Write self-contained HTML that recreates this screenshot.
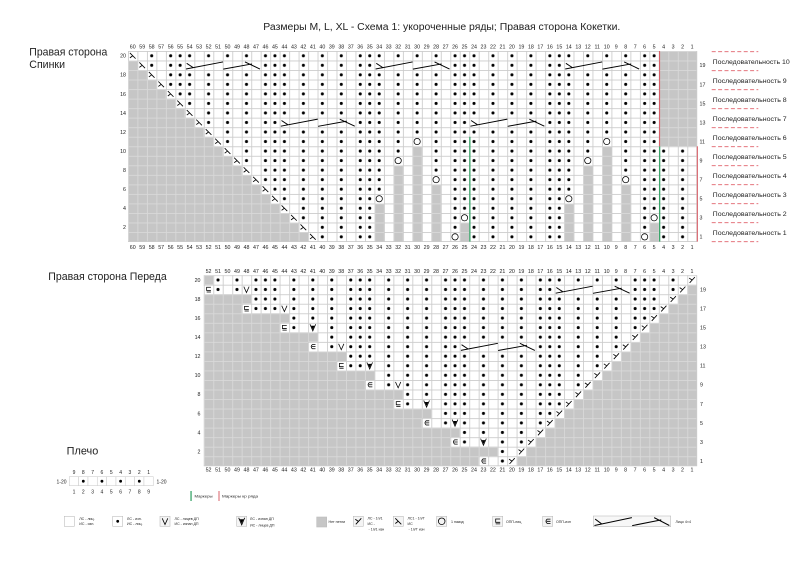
<!DOCTYPE html>
<html><head><meta charset="utf-8"><style>
html,body{margin:0;padding:0;background:#fff;}
svg{display:block;}
text{font-family:"Liberation Sans","DejaVu Sans",sans-serif;fill:#222;}
</style></head><body>
<svg xmlns="http://www.w3.org/2000/svg" xmlns:xlink="http://www.w3.org/1999/xlink" width="800" height="565" viewBox="0 0 800 565">
<defs>
<pattern id="gw" patternUnits="userSpaceOnUse" width="1" height="1"><rect width="1" height="1" fill="#fff"/><rect width="1" height=".09" fill="#cbcbcb"/><rect width=".09" height="1" fill="#cbcbcb"/></pattern>
<pattern id="gg" patternUnits="userSpaceOnUse" width="1" height="1"><rect width="1" height="1" fill="#c6c6c6"/><rect width="1" height=".09" fill="#d9d9d9"/><rect width=".09" height="1" fill="#d9d9d9"/></pattern>
<pattern id="dT" patternUnits="userSpaceOnUse" width="10" height="1"><circle cx=".5" cy=".5" r=".16" fill="#000"/><circle cx="2.5" cy=".5" r=".16" fill="#000"/><circle cx="4.5" cy=".5" r=".16" fill="#000"/><circle cx="5.5" cy=".5" r=".16" fill="#000"/><circle cx="6.5" cy=".5" r=".16" fill="#000"/><circle cx="8.5" cy=".5" r=".16" fill="#000"/></pattern>
<pattern id="dB" patternUnits="userSpaceOnUse" width="10" height="1"><circle cx="1.5" cy=".5" r=".16" fill="#000"/><circle cx="3.5" cy=".5" r=".16" fill="#000"/><circle cx="5.5" cy=".5" r=".16" fill="#000"/><circle cx="6.5" cy=".5" r=".16" fill="#000"/><circle cx="7.5" cy=".5" r=".16" fill="#000"/><circle cx="9.5" cy=".5" r=".16" fill="#000"/></pattern>
<g id="dec"><path d="M.2,.2L.8,.8M.2,.72L.5,.5" fill="none" stroke="#000" stroke-width=".09"/></g>
<g id="inc"><path d="M.8,.2L.25,.8M.2,.3L.52,.52" fill="none" stroke="#000" stroke-width=".09"/></g>
<g id="circ"><circle cx=".5" cy=".5" r=".33" fill="none" stroke="#000" stroke-width=".08"/></g>
<g id="vv"><path d="M.22,.2L.5,.82L.78,.2" fill="none" stroke="#000" stroke-width=".08"/></g>
<g id="vf"><path d="M.2,.15L.5,.85L.8,.15" fill="none" stroke="#000" stroke-width=".08"/><path d="M.3,.3L.7,.3L.5,.72Z" fill="#000"/></g>
<g id="cu"><path d="M.75,.27H.3V.6H.75M.3,.76H.75" fill="none" stroke="#000" stroke-width=".08"/></g>
<g id="ca"><path d="M.78,.28H.45Q.2,.5 .45,.72H.78M.4,.5H.78" fill="none" stroke="#000" stroke-width=".08"/></g>
<g id="cab"><path d="M.19,.29L.86,.73M.12,.89L4.02,.15M4.05,.9L7.08,.36M6.34,.15L7.92,.89" fill="none" stroke="#000" stroke-width=".1"/></g>
</defs>

<!-- Title -->
<text x="263.3" y="29.8" font-size="10" textLength="357" lengthAdjust="spacingAndGlyphs">Размеры M, L, XL - Схема 1: укороченные ряды; Правая сторона Кокетки.</text>
<text x="29.3" y="55.5" font-size="10.8" textLength="78" lengthAdjust="spacingAndGlyphs">Правая сторона</text>
<text x="29.3" y="67.8" font-size="10.8" textLength="35.7" lengthAdjust="spacingAndGlyphs">Спинки</text>
<text x="48.3" y="280" font-size="10.8" textLength="118.4" lengthAdjust="spacingAndGlyphs">Правая сторона Переда</text>
<text x="66.7" y="454.3" font-size="10.8" textLength="31.6" lengthAdjust="spacingAndGlyphs">Плечо</text>

<!-- TOP CHART -->
<g transform="translate(128,51) scale(9.48,9.53)">
<rect width="60" height="20" fill="url(#gw)"/>
<rect width="60" height="20" fill="url(#dT)"/>
<polygon fill="url(#gg)" points="0,1 1,1 1,2 2,2 2,3 3,3 3,4 4,4 4,5 5,5 5,6 6,6 6,7 7,7 7,8 8,8 8,9 9,9 9,10 10,10 10,11 11,11 11,12 12,12 12,13 13,13 13,14 14,14 14,15 15,15 15,16 16,16 16,17 17,17 17,18 18,18 18,19 19,19 19,20 0,20"/>
<path fill="url(#gg)" d="M56,0h4v10h-4zM26,16h1v4h-1zM28,12h1v8h-1zM30,10h1v10h-1zM32,14h1v6h-1zM35,18h1v2h-1zM46,16h1v4h-1zM48,12h1v8h-1zM50,10h1v10h-1zM52,14h1v6h-1zM55,18h1v2h-1z"/>
<path fill="url(#gw)" d="M0,0h1v1h-1zM1,1h1v1h-1zM2,2h1v1h-1zM3,3h1v1h-1zM4,4h1v1h-1zM5,5h1v1h-1zM6,6h1v1h-1zM7,7h1v1h-1zM8,8h1v1h-1zM9,9h1v1h-1zM10,10h1v1h-1zM11,11h1v1h-1zM12,12h1v1h-1zM13,13h1v1h-1zM14,14h1v1h-1zM15,15h1v1h-1zM16,16h1v1h-1zM17,17h1v1h-1zM18,18h1v1h-1zM19,19h1v1h-1z"/>
<path fill="url(#gw)" d="M26,15h1v1h-1zM28,11h1v1h-1zM30,9h1v1h-1zM32,13h1v1h-1zM34,19h1v1h-1zM35,17h1v1h-1zM46,15h1v1h-1zM48,11h1v1h-1zM50,9h1v1h-1zM52,13h1v1h-1zM54,19h1v1h-1zM55,17h1v1h-1zM6,1h8v1h-8zM26,1h8v1h-8zM46,1h8v1h-8zM16,7h8v1h-8zM36,7h8v1h-8z"/>
<path d="M60,0V20H0" fill="none" stroke="#cbcbcb" stroke-width=".09"/>
<use xlink:href="#dec" x="0" y="0"/><use xlink:href="#dec" x="1" y="1"/><use xlink:href="#dec" x="2" y="2"/><use xlink:href="#dec" x="3" y="3"/><use xlink:href="#dec" x="4" y="4"/><use xlink:href="#dec" x="5" y="5"/><use xlink:href="#dec" x="6" y="6"/><use xlink:href="#dec" x="7" y="7"/><use xlink:href="#dec" x="8" y="8"/><use xlink:href="#dec" x="9" y="9"/><use xlink:href="#dec" x="10" y="10"/><use xlink:href="#dec" x="11" y="11"/><use xlink:href="#dec" x="12" y="12"/><use xlink:href="#dec" x="13" y="13"/><use xlink:href="#dec" x="14" y="14"/><use xlink:href="#dec" x="15" y="15"/><use xlink:href="#dec" x="16" y="16"/><use xlink:href="#dec" x="17" y="17"/><use xlink:href="#dec" x="18" y="18"/><use xlink:href="#dec" x="19" y="19"/>
<use xlink:href="#circ" x="26" y="15"/><use xlink:href="#circ" x="28" y="11"/><use xlink:href="#circ" x="30" y="9"/><use xlink:href="#circ" x="32" y="13"/><use xlink:href="#circ" x="34" y="19"/><use xlink:href="#circ" x="35" y="17"/><use xlink:href="#circ" x="46" y="15"/><use xlink:href="#circ" x="48" y="11"/><use xlink:href="#circ" x="50" y="9"/><use xlink:href="#circ" x="52" y="13"/><use xlink:href="#circ" x="54" y="19"/><use xlink:href="#circ" x="55" y="17"/>
<use xlink:href="#cab" x="6" y="1"/><use xlink:href="#cab" x="26" y="1"/><use xlink:href="#cab" x="46" y="1"/><use xlink:href="#cab" x="16" y="7"/><use xlink:href="#cab" x="36" y="7"/>
</g>
<!-- markers on top chart -->
<rect x="469.2" y="136.8" width="1.3" height="104.8" fill="#3aa56a"/>
<rect x="659" y="146.3" width="1.3" height="95.3" fill="#3aa56a"/>
<rect x="659" y="51" width="1.1" height="95.3" fill="#d9606a"/>
<rect x="696.8" y="146.3" width="1.1" height="95.3" fill="#d9606a"/>

<!-- top chart column labels -->
<g transform="translate(128,0)" font-size="5.3" text-anchor="middle">
<text y="48.5"><tspan x="4.74">60</tspan><tspan x="14.22">59</tspan><tspan x="23.7">58</tspan><tspan x="33.18">57</tspan><tspan x="42.66">56</tspan><tspan x="52.14">55</tspan><tspan x="61.62">54</tspan><tspan x="71.1">53</tspan><tspan x="80.58">52</tspan><tspan x="90.06">51</tspan><tspan x="99.54">50</tspan><tspan x="109.02">49</tspan><tspan x="118.5">48</tspan><tspan x="127.98">47</tspan><tspan x="137.46">46</tspan><tspan x="146.94">45</tspan><tspan x="156.42">44</tspan><tspan x="165.9">43</tspan><tspan x="175.38">42</tspan><tspan x="184.86">41</tspan><tspan x="194.34">40</tspan><tspan x="203.82">39</tspan><tspan x="213.3">38</tspan><tspan x="222.78">37</tspan><tspan x="232.26">36</tspan><tspan x="241.74">35</tspan><tspan x="251.22">34</tspan><tspan x="260.7">33</tspan><tspan x="270.18">32</tspan><tspan x="279.66">31</tspan><tspan x="289.14">30</tspan><tspan x="298.62">29</tspan><tspan x="308.1">28</tspan><tspan x="317.58">27</tspan><tspan x="327.06">26</tspan><tspan x="336.54">25</tspan><tspan x="346.02">24</tspan><tspan x="355.5">23</tspan><tspan x="364.98">22</tspan><tspan x="374.46">21</tspan><tspan x="383.94">20</tspan><tspan x="393.42">19</tspan><tspan x="402.9">18</tspan><tspan x="412.38">17</tspan><tspan x="421.86">16</tspan><tspan x="431.34">15</tspan><tspan x="440.82">14</tspan><tspan x="450.3">13</tspan><tspan x="459.78">12</tspan><tspan x="469.26">11</tspan><tspan x="478.74">10</tspan><tspan x="488.22">9</tspan><tspan x="497.7">8</tspan><tspan x="507.18">7</tspan><tspan x="516.66">6</tspan><tspan x="526.14">5</tspan><tspan x="535.62">4</tspan><tspan x="545.1">3</tspan><tspan x="554.58">2</tspan><tspan x="564.06">1</tspan></text>
<text y="249.2"><tspan x="4.74">60</tspan><tspan x="14.22">59</tspan><tspan x="23.7">58</tspan><tspan x="33.18">57</tspan><tspan x="42.66">56</tspan><tspan x="52.14">55</tspan><tspan x="61.62">54</tspan><tspan x="71.1">53</tspan><tspan x="80.58">52</tspan><tspan x="90.06">51</tspan><tspan x="99.54">50</tspan><tspan x="109.02">49</tspan><tspan x="118.5">48</tspan><tspan x="127.98">47</tspan><tspan x="137.46">46</tspan><tspan x="146.94">45</tspan><tspan x="156.42">44</tspan><tspan x="165.9">43</tspan><tspan x="175.38">42</tspan><tspan x="184.86">41</tspan><tspan x="194.34">40</tspan><tspan x="203.82">39</tspan><tspan x="213.3">38</tspan><tspan x="222.78">37</tspan><tspan x="232.26">36</tspan><tspan x="241.74">35</tspan><tspan x="251.22">34</tspan><tspan x="260.7">33</tspan><tspan x="270.18">32</tspan><tspan x="279.66">31</tspan><tspan x="289.14">30</tspan><tspan x="298.62">29</tspan><tspan x="308.1">28</tspan><tspan x="317.58">27</tspan><tspan x="327.06">26</tspan><tspan x="336.54">25</tspan><tspan x="346.02">24</tspan><tspan x="355.5">23</tspan><tspan x="364.98">22</tspan><tspan x="374.46">21</tspan><tspan x="383.94">20</tspan><tspan x="393.42">19</tspan><tspan x="402.9">18</tspan><tspan x="412.38">17</tspan><tspan x="421.86">16</tspan><tspan x="431.34">15</tspan><tspan x="440.82">14</tspan><tspan x="450.3">13</tspan><tspan x="459.78">12</tspan><tspan x="469.26">11</tspan><tspan x="478.74">10</tspan><tspan x="488.22">9</tspan><tspan x="497.7">8</tspan><tspan x="507.18">7</tspan><tspan x="516.66">6</tspan><tspan x="526.14">5</tspan><tspan x="535.62">4</tspan><tspan x="545.1">3</tspan><tspan x="554.58">2</tspan><tspan x="564.06">1</tspan></text>
</g>
<text font-size="5.3" text-anchor="end"><tspan x="126" y="57.7">20</tspan><tspan x="126" y="76.7">18</tspan><tspan x="126" y="95.8">16</tspan><tspan x="126" y="114.9">14</tspan><tspan x="126" y="133.9">12</tspan><tspan x="126" y="153">10</tspan><tspan x="126" y="172">8</tspan><tspan x="126" y="191.1">6</tspan><tspan x="126" y="210.2">4</tspan><tspan x="126" y="229.2">2</tspan></text>
<text font-size="5.3"><tspan x="699.5" y="67.2">19</tspan><tspan x="699.5" y="86.3">17</tspan><tspan x="699.5" y="105.3">15</tspan><tspan x="699.5" y="124.4">13</tspan><tspan x="699.5" y="143.4">11</tspan><tspan x="699.5" y="162.5">9</tspan><tspan x="699.5" y="181.6">7</tspan><tspan x="699.5" y="200.6">5</tspan><tspan x="699.5" y="219.7">3</tspan><tspan x="699.5" y="238.7">1</tspan></text>

<!-- sequences -->
<g stroke="#e0606a" stroke-width=".9" stroke-dasharray="4 2.4">
<path d="M711.7,51.7H758.3M711.7,70.7H758.3M711.7,89.7H758.3M711.7,108.7H758.3M711.7,127.7H758.3M711.7,146.7H758.3M711.7,165.7H758.3M711.7,184.7H758.3M711.7,203.7H758.3M711.7,222.7H758.3M711.7,241.7H758.3"/>
</g>
<g font-size="6.5">
<text x="712.7" y="63.9" textLength="77" lengthAdjust="spacingAndGlyphs">Последовательность 10</text>
<text x="712.7" y="82.9" textLength="74" lengthAdjust="spacingAndGlyphs">Последовательность 9</text>
<text x="712.7" y="101.9" textLength="74" lengthAdjust="spacingAndGlyphs">Последовательность 8</text>
<text x="712.7" y="120.9" textLength="74" lengthAdjust="spacingAndGlyphs">Последовательность 7</text>
<text x="712.7" y="139.9" textLength="74" lengthAdjust="spacingAndGlyphs">Последовательность 6</text>
<text x="712.7" y="158.9" textLength="74" lengthAdjust="spacingAndGlyphs">Последовательность 5</text>
<text x="712.7" y="177.9" textLength="74" lengthAdjust="spacingAndGlyphs">Последовательность 4</text>
<text x="712.7" y="196.9" textLength="74" lengthAdjust="spacingAndGlyphs">Последовательность 3</text>
<text x="712.7" y="215.9" textLength="74" lengthAdjust="spacingAndGlyphs">Последовательность 2</text>
<text x="712.7" y="234.9" textLength="74" lengthAdjust="spacingAndGlyphs">Последовательность 1</text>
</g>

<!-- BOTTOM CHART -->
<g transform="translate(203.8,275.2) scale(9.48,9.53)">
<rect width="52" height="20" fill="url(#gw)"/>
<rect width="52" height="20" fill="url(#dB)"/>
<path fill="url(#gg)" d="M0,0h1v1h-1zM0,2h5v1h-5zM0,3h4v1h-4zM0,4h9v1h-9zM0,5h8v1h-8zM0,6h12v1h-12zM0,7h11v1h-11zM0,8h15v1h-15zM0,9h14v1h-14zM0,10h18v1h-18zM0,11h17v1h-17zM0,12h21v1h-21zM0,13h20v1h-20zM0,14h24v1h-24zM0,15h23v1h-23zM0,16h27v1h-27zM0,17h26v1h-26zM0,18h31v1h-31zM0,19h29v1h-29z"/>
<polygon fill="url(#gg)" points="52,1 51,1 51,2 50,2 50,3 49,3 49,4 48,4 48,5 47,5 47,6 46,6 46,7 45,7 45,8 44,8 44,9 43,9 43,10 42,10 42,11 41,11 41,12 40,12 40,13 39,13 39,14 38,14 38,15 37,15 37,16 36,16 36,17 35,17 35,18 34,18 34,19 33,19 33,20 52,20"/>
<path fill="url(#gw)" d="M51,0h1v1h-1zM50,1h1v1h-1zM49,2h1v1h-1zM48,3h1v1h-1zM47,4h1v1h-1zM46,5h1v1h-1zM45,6h1v1h-1zM44,7h1v1h-1zM43,8h1v1h-1zM42,9h1v1h-1zM41,10h1v1h-1zM40,11h1v1h-1zM39,12h1v1h-1zM38,13h1v1h-1zM37,14h1v1h-1zM36,15h1v1h-1zM35,16h1v1h-1zM34,17h1v1h-1zM33,18h1v1h-1zM32,19h1v1h-1z"/>
<path fill="url(#gw)" d="M0,1h1v1h-1zM4,1h1v1h-1zM4,3h1v1h-1zM8,3h1v1h-1zM8,5h1v1h-1zM11,5h1v1h-1zM11,7h1v1h-1zM14,7h1v1h-1zM14,9h1v1h-1zM17,9h1v1h-1zM17,11h1v1h-1zM20,11h1v1h-1zM20,13h1v1h-1zM23,13h1v1h-1zM23,15h1v1h-1zM26,15h1v1h-1zM26,17h1v1h-1zM29,17h1v1h-1zM29,19h1v1h-1zM37,1h8v1h-8zM27,7h8v1h-8z"/>
<path d="M52,0V20H0" fill="none" stroke="#cbcbcb" stroke-width=".09"/>
<use xlink:href="#cu" x="0" y="1"/><use xlink:href="#vv" x="4" y="1"/>
<use xlink:href="#cu" x="4" y="3"/><use xlink:href="#vv" x="8" y="3"/>
<use xlink:href="#cu" x="8" y="5"/><use xlink:href="#vf" x="11" y="5"/>
<use xlink:href="#ca" x="11" y="7"/><use xlink:href="#vv" x="14" y="7"/>
<use xlink:href="#cu" x="14" y="9"/><use xlink:href="#vf" x="17" y="9"/>
<use xlink:href="#ca" x="17" y="11"/><use xlink:href="#vv" x="20" y="11"/>
<use xlink:href="#cu" x="20" y="13"/><use xlink:href="#vf" x="23" y="13"/>
<use xlink:href="#ca" x="23" y="15"/><use xlink:href="#vf" x="26" y="15"/>
<use xlink:href="#ca" x="26" y="17"/><use xlink:href="#vf" x="29" y="17"/>
<use xlink:href="#ca" x="29" y="19"/>
<use xlink:href="#inc" x="51" y="0"/><use xlink:href="#inc" x="50" y="1"/><use xlink:href="#inc" x="49" y="2"/><use xlink:href="#inc" x="48" y="3"/><use xlink:href="#inc" x="47" y="4"/><use xlink:href="#inc" x="46" y="5"/><use xlink:href="#inc" x="45" y="6"/><use xlink:href="#inc" x="44" y="7"/><use xlink:href="#inc" x="43" y="8"/><use xlink:href="#inc" x="42" y="9"/><use xlink:href="#inc" x="41" y="10"/><use xlink:href="#inc" x="40" y="11"/><use xlink:href="#inc" x="39" y="12"/><use xlink:href="#inc" x="38" y="13"/><use xlink:href="#inc" x="37" y="14"/><use xlink:href="#inc" x="36" y="15"/><use xlink:href="#inc" x="35" y="16"/><use xlink:href="#inc" x="34" y="17"/><use xlink:href="#inc" x="33" y="18"/><use xlink:href="#inc" x="32" y="19"/>
<use xlink:href="#cab" x="37" y="1"/><use xlink:href="#cab" x="27" y="7"/>
</g>
<g transform="translate(203.8,0)" font-size="5.3" text-anchor="middle">
<text y="272.8"><tspan x="4.74">52</tspan><tspan x="14.22">51</tspan><tspan x="23.7">50</tspan><tspan x="33.18">49</tspan><tspan x="42.66">48</tspan><tspan x="52.14">47</tspan><tspan x="61.62">46</tspan><tspan x="71.1">45</tspan><tspan x="80.58">44</tspan><tspan x="90.06">43</tspan><tspan x="99.54">42</tspan><tspan x="109.02">41</tspan><tspan x="118.5">40</tspan><tspan x="127.98">39</tspan><tspan x="137.46">38</tspan><tspan x="146.94">37</tspan><tspan x="156.42">36</tspan><tspan x="165.9">35</tspan><tspan x="175.38">34</tspan><tspan x="184.86">33</tspan><tspan x="194.34">32</tspan><tspan x="203.82">31</tspan><tspan x="213.3">30</tspan><tspan x="222.78">29</tspan><tspan x="232.26">28</tspan><tspan x="241.74">27</tspan><tspan x="251.22">26</tspan><tspan x="260.7">25</tspan><tspan x="270.18">24</tspan><tspan x="279.66">23</tspan><tspan x="289.14">22</tspan><tspan x="298.62">21</tspan><tspan x="308.1">20</tspan><tspan x="317.58">19</tspan><tspan x="327.06">18</tspan><tspan x="336.54">17</tspan><tspan x="346.02">16</tspan><tspan x="355.5">15</tspan><tspan x="364.98">14</tspan><tspan x="374.46">13</tspan><tspan x="383.94">12</tspan><tspan x="393.42">11</tspan><tspan x="402.9">10</tspan><tspan x="412.38">9</tspan><tspan x="421.86">8</tspan><tspan x="431.34">7</tspan><tspan x="440.82">6</tspan><tspan x="450.3">5</tspan><tspan x="459.78">4</tspan><tspan x="469.26">3</tspan><tspan x="478.74">2</tspan><tspan x="488.22">1</tspan></text>
<text y="471.4"><tspan x="4.74">52</tspan><tspan x="14.22">51</tspan><tspan x="23.7">50</tspan><tspan x="33.18">49</tspan><tspan x="42.66">48</tspan><tspan x="52.14">47</tspan><tspan x="61.62">46</tspan><tspan x="71.1">45</tspan><tspan x="80.58">44</tspan><tspan x="90.06">43</tspan><tspan x="99.54">42</tspan><tspan x="109.02">41</tspan><tspan x="118.5">40</tspan><tspan x="127.98">39</tspan><tspan x="137.46">38</tspan><tspan x="146.94">37</tspan><tspan x="156.42">36</tspan><tspan x="165.9">35</tspan><tspan x="175.38">34</tspan><tspan x="184.86">33</tspan><tspan x="194.34">32</tspan><tspan x="203.82">31</tspan><tspan x="213.3">30</tspan><tspan x="222.78">29</tspan><tspan x="232.26">28</tspan><tspan x="241.74">27</tspan><tspan x="251.22">26</tspan><tspan x="260.7">25</tspan><tspan x="270.18">24</tspan><tspan x="279.66">23</tspan><tspan x="289.14">22</tspan><tspan x="298.62">21</tspan><tspan x="308.1">20</tspan><tspan x="317.58">19</tspan><tspan x="327.06">18</tspan><tspan x="336.54">17</tspan><tspan x="346.02">16</tspan><tspan x="355.5">15</tspan><tspan x="364.98">14</tspan><tspan x="374.46">13</tspan><tspan x="383.94">12</tspan><tspan x="393.42">11</tspan><tspan x="402.9">10</tspan><tspan x="412.38">9</tspan><tspan x="421.86">8</tspan><tspan x="431.34">7</tspan><tspan x="440.82">6</tspan><tspan x="450.3">5</tspan><tspan x="459.78">4</tspan><tspan x="469.26">3</tspan><tspan x="478.74">2</tspan><tspan x="488.22">1</tspan></text>
</g>
<text font-size="5.3" text-anchor="end"><tspan x="200.5" y="281.9">20</tspan><tspan x="200.5" y="300.9">18</tspan><tspan x="200.5" y="320">16</tspan><tspan x="200.5" y="339.1">14</tspan><tspan x="200.5" y="358.1">12</tspan><tspan x="200.5" y="377.2">10</tspan><tspan x="200.5" y="396.2">8</tspan><tspan x="200.5" y="415.3">6</tspan><tspan x="200.5" y="434.4">4</tspan><tspan x="200.5" y="453.4">2</tspan></text>
<text font-size="5.3"><tspan x="700" y="291.4">19</tspan><tspan x="700" y="310.5">17</tspan><tspan x="700" y="329.5">15</tspan><tspan x="700" y="348.6">13</tspan><tspan x="700" y="367.7">11</tspan><tspan x="700" y="386.7">9</tspan><tspan x="700" y="405.8">7</tspan><tspan x="700" y="424.8">5</tspan><tspan x="700" y="443.9">3</tspan><tspan x="700" y="462.9">1</tspan></text>

<!-- Plecho mini chart -->
<g fill="#fff" stroke="#cfcfcf" stroke-width=".6">
<rect x="69.3" y="476.7" width="9.33" height="9"/><rect x="78.63" y="476.7" width="9.33" height="9"/><rect x="87.96" y="476.7" width="9.33" height="9"/><rect x="97.29" y="476.7" width="9.33" height="9"/><rect x="106.62" y="476.7" width="9.33" height="9"/><rect x="115.95" y="476.7" width="9.33" height="9"/><rect x="125.28" y="476.7" width="9.33" height="9"/><rect x="134.61" y="476.7" width="9.33" height="9"/><rect x="143.94" y="476.7" width="9.33" height="9"/>
</g>
<g fill="#000"><circle cx="83.3" cy="481.2" r="1.4"/><circle cx="101.95" cy="481.2" r="1.4"/><circle cx="120.6" cy="481.2" r="1.4"/><circle cx="139.3" cy="481.2" r="1.4"/></g>
<text font-size="5" text-anchor="middle" y="474"><tspan x="74" y="474">9</tspan><tspan x="83.3" y="474">8</tspan><tspan x="92.6" y="474">7</tspan><tspan x="101.9" y="474">6</tspan><tspan x="111.3" y="474">5</tspan><tspan x="120.6" y="474">4</tspan><tspan x="129.9" y="474">3</tspan><tspan x="139.3" y="474">2</tspan><tspan x="148.6" y="474">1</tspan></text>
<text font-size="5" text-anchor="middle"><tspan x="74" y="493.6">1</tspan><tspan x="83.3" y="493.6">2</tspan><tspan x="92.6" y="493.6">3</tspan><tspan x="101.9" y="493.6">4</tspan><tspan x="111.3" y="493.6">5</tspan><tspan x="120.6" y="493.6">6</tspan><tspan x="129.9" y="493.6">7</tspan><tspan x="139.3" y="493.6">8</tspan><tspan x="148.6" y="493.6">9</tspan></text>
<text x="56.5" y="483.5" font-size="5">1-20</text>
<text x="156.5" y="483.5" font-size="5">1-20</text>

<!-- marker legend -->
<rect x="190.4" y="491" width="1.3" height="10" fill="#3aa56a"/>
<text x="194.5" y="497.6" font-size="3.8" textLength="18" lengthAdjust="spacingAndGlyphs">Маркеры</text>
<rect x="218.5" y="491" width="1" height="10" fill="#d9606a"/>
<text x="222" y="497.6" font-size="3.8" textLength="36" lengthAdjust="spacingAndGlyphs">Маркеры кр ряда</text>

<!-- symbol legend -->
<g stroke="#bdbdbd" stroke-width=".6">
<rect x="64.3" y="516.3" width="10" height="10" fill="#fff"/>
<rect x="112.7" y="516.3" width="10" height="10" fill="#fff"/>
<rect x="160" y="516.3" width="10" height="10" fill="#f4f4f4"/>
<rect x="236.7" y="516.3" width="10" height="10" fill="#f4f4f4"/>
<rect x="316.7" y="517" width="10" height="10" fill="#c6c6c6"/>
<rect x="353.3" y="516.3" width="10" height="10" fill="#f4f4f4"/>
<rect x="393.3" y="516.3" width="10" height="10" fill="#f4f4f4"/>
<rect x="436.7" y="516.3" width="10" height="10" fill="#f4f4f4"/>
<rect x="492.7" y="516.3" width="10" height="10" fill="#f4f4f4"/>
<rect x="542.7" y="516.3" width="10" height="10" fill="#f4f4f4"/>
<rect x="593.3" y="516" width="77.4" height="10.7" fill="#f7f7f7"/>
</g>
<circle cx="117.7" cy="521.3" r="1.4" fill="#000"/>
<g transform="translate(160,516.3) scale(10)"><use xlink:href="#vv"/></g>
<g transform="translate(236.7,516.3) scale(10)"><use xlink:href="#vf"/></g>
<g transform="translate(353.3,516.3) scale(10)"><use xlink:href="#inc"/></g>
<g transform="translate(393.3,516.3) scale(10)"><use xlink:href="#dec"/></g>
<g transform="translate(436.7,516.3) scale(10)"><use xlink:href="#circ"/></g>
<g transform="translate(492.7,516.3) scale(10)"><use xlink:href="#cu"/></g>
<g transform="translate(542.7,516.3) scale(10)"><use xlink:href="#ca"/></g>
<g transform="translate(593.3,516) scale(9.6,10.7)"><use xlink:href="#cab"/></g>
<g font-size="3.6">
<text x="79.3" y="520">ЛС - лиц.</text><text x="79.3" y="525">ИС - изн.</text>
<text x="127" y="520">ЛС - изн.</text><text x="127" y="525">ИС - лиц.</text>
<text x="174.5" y="520">ЛС - лицев ДП</text><text x="174.5" y="525">ИС - изнан ДП</text>
<text x="250" y="520">ЛС - изнан ДП</text><text x="250" y="526.7">ИС - лицев ДП</text>
<text x="328.5" y="523.2">Нет петли</text>
<text x="367.5" y="519.5">ЛС - 1п/1</text><text x="367.5" y="525">ИС -</text><text x="368.5" y="530.5">- 1п/1 изн</text>
<text x="407.5" y="519.5">ЛС1 - 1п/Т</text><text x="407.5" y="525">ИС</text><text x="408.5" y="530.5">- 1п/Т изн</text>
<text x="451" y="523">1 накид</text>
<text x="506" y="523">ОПП-лиц</text>
<text x="556" y="523">ОПП-изн</text>
<text x="675.5" y="523">Лицо 4×4</text>
</g>
</svg>
</body></html>
